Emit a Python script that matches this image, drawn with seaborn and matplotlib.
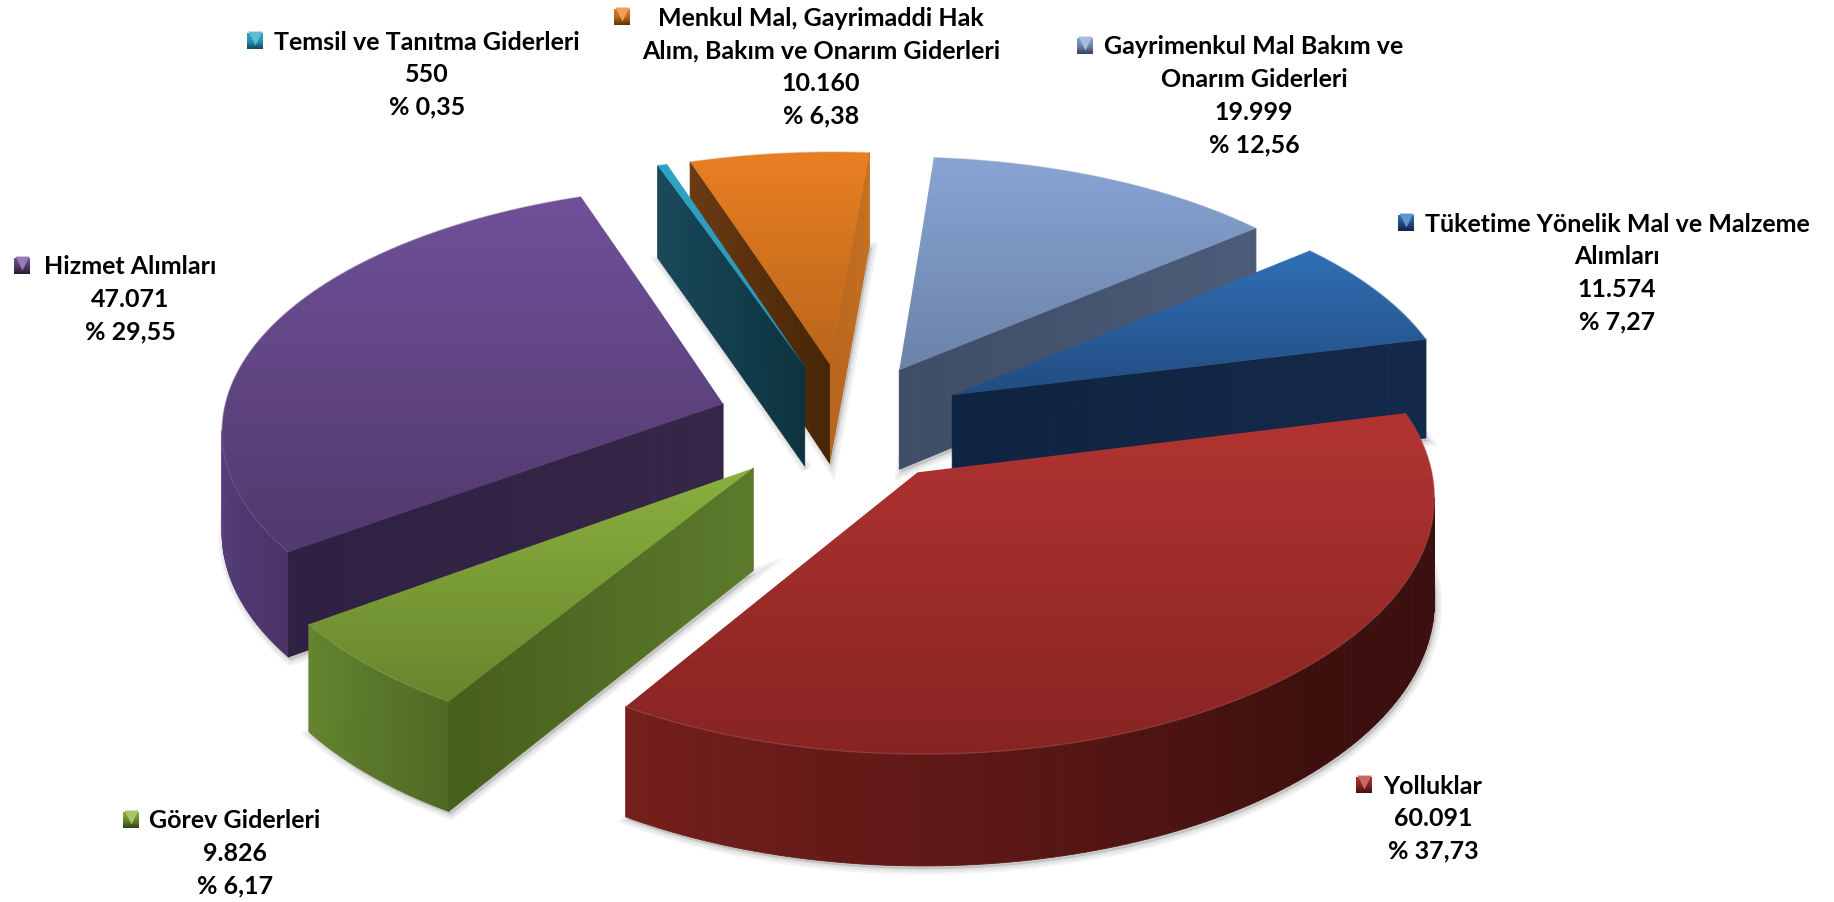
import numpy as np
import matplotlib
matplotlib.use("Agg")
import matplotlib.pyplot as plt
import seaborn as sns
from matplotlib.collections import PolyCollection
from matplotlib.patches import Polygon

# slices, clockwise from the top
labels = ["Temsil ve Tanıtma Giderleri",
          "Menkul Mal, Gayrimaddi Hak\nAlım, Bakım ve Onarım Giderleri",
          "Gayrimenkul Mal Bakım ve\nOnarım Giderleri",
          "Tüketime Yönelik Mal ve Malzeme\nAlımları",
          "Yolluklar",
          "Görev Giderleri",
          "Hizmet Alımları"]
values = [550, 10160, 19999, 11574, 60091, 9826, 47071]
value_text = ["550", "10.160", "19.999", "11.574", "60.091", "9.826", "47.071"]
percent_text = ["% 0,35", "% 6,38", "% 12,56", "% 7,27", "% 37,73", "% 6,17", "% 29,55"]
explode = [0.245, 0.245, 0.245, 0.245, 0.25, 0.255, 0.252]

# colours of the top faces (upper edge, lower edge)
top_colors = [("#2fa3c6", "#2a93b4"), ("#ea7f22", "#b9661b"), ("#88a4d4", "#6c83aa"),
              ("#3070b6", "#224c80"), ("#b23432", "#872422"), ("#8bb03f", "#68862d"),
              ("#70509a", "#513a6c")]
# colours of the side walls: first radial wall, arc, second radial wall
wall_colors = [(None, None, ("#19495a", "#0d3340")),
               (("#b8651d", "#c47020"), None, ("#6a3a12", "#472607")),
               (("#3f4e66", "#4c5c78"), None, None),
               (("#0f2440", "#15294a"), None, None),
               (None, ("#741f1c", "#5c1715", "#3d100e", "#3a0f0e"), None),
               (None, ("#658530", "#4e6a22"), ("#475f1c", "#5c7a2c")),
               (None, ("#5d4281", "#503871", "#4a3468"), ("#2e2143", "#362647"))]

label_x = [427, 821, 1254, 1617, 1433, 235, 130]
label_y = [42, 18, 47, 224, 786, 821, 267]
marker_x = [255, 622, 1085, 1406, 1364, 131, 22]

sns.set_theme(style="white")
plt.rcParams["font.family"] = ["Lato", "DejaVu Sans"]

fig = plt.figure(figsize=(18.34, 9.02), dpi=100)
ax = fig.add_axes([0, 0, 1, 1])

# the pie itself gives the wedge angles and exploded centres
pie_ax = fig.add_axes([0, 0, 0.01, 0.01])
wedges, _ = pie_ax.pie(values, explode=explode, startangle=107.6, counterclock=False)
pie_ax.set_visible(False)


def project(X, Y, drop=0.0):
    sx = 843 + 503 * X / (1 + 0.09 * Y) - 13 * Y
    sy = 422 - 243.6 * Y / (1 + 0.098 * Y) - 0.015 * (sx - 841)
    return sx, sy + drop * 101 / (1 + 0.08 * Y)


def fade(colors, n):
    return sns.blend_palette(list(colors), max(n, 2))


def draw_slice(wedge, tops, walls, z):
    cx, cy = wedge.center
    t = np.radians(np.linspace(wedge.theta1, wedge.theta2, 120))
    arc_X, arc_Y = cx + np.cos(t), cy + np.sin(t)
    first_X = np.linspace(cx, arc_X[0], 25)
    first_Y = np.linspace(cy, arc_Y[0], 25)
    last_X = np.linspace(arc_X[-1], cx, 25)
    last_Y = np.linspace(arc_Y[-1], cy, 25)

    # soft shadow under the slice
    X = np.r_[first_X, arc_X, last_X]
    Y = np.r_[first_Y, arc_Y, last_Y]
    bx, by = project(X, Y, 1)
    for lw in (8, 5, 2):
        ax.fill(bx + 2, by + 3, color="#555555", alpha=0.07, lw=lw, zorder=z)

    # walls facing the viewer, built from short quads
    polys, cols = [], []
    for part, pal in zip([(first_X, first_Y), (arc_X, arc_Y), (last_X, last_Y)], walls):
        if pal is None:
            continue
        x0, y0 = project(part[0], part[1], 0)
        x1, y1 = project(part[0], part[1], 1)
        front = np.where(np.diff(x0) > 0)[0]
        shades = fade(pal, len(front))
        for j, i in enumerate(front):
            polys.append([(x0[i], y0[i]), (x0[i + 1], y0[i + 1]), (x1[i + 1], y1[i + 1]), (x1[i], y1[i])])
            cols.append(shades[j])
    if polys:
        ax.add_collection(PolyCollection(polys, facecolors=cols, edgecolors=cols, linewidths=0.6, zorder=z + 0.1))

    # top face with a vertical gradient
    tx, ty = project(X, Y, 0)
    grad = np.linspace(0, 1, 256).reshape(-1, 1)
    cmap = sns.blend_palette(list(tops), as_cmap=True)
    im = ax.imshow(grad, cmap=cmap, aspect="auto", interpolation="bilinear",
                   extent=(tx.min(), tx.max(), ty.max(), ty.min()), zorder=z + 0.2)
    im.set_clip_path(Polygon(np.c_[tx, ty], closed=True, transform=ax.transData))
    ax.plot(*project(arc_X, arc_Y, 0), color=fade((tops[1], "white"), 5)[1], lw=1, alpha=0.4, zorder=z + 0.3)


# far slices first so the near ones cover them
mids = [np.sin(np.radians((w.theta1 + w.theta2) / 2)) for w in wedges]
for rank, i in enumerate(np.argsort(mids)[::-1]):
    draw_slice(wedges[i], top_colors[i], wall_colors[i], 2 + rank)

# labels
line_h = 32.7
for i, name in enumerate(labels):
    lines = name.split("\n") + [value_text[i], percent_text[i]]
    for k, line in enumerate(lines):
        ax.text(label_x[i], label_y[i] + k * line_h, line, ha="center", va="center",
                fontsize=18, fontweight="bold", color="black", zorder=20)
    # small bevelled legend key
    mx, my = marker_x[i], label_y[i] - 1
    key = sns.blend_palette([top_colors[i][0], top_colors[i][1], fade((top_colors[i][1], "black"), 5)[2]], as_cmap=True)
    ax.imshow(np.linspace(0, 1, 32).reshape(-1, 1), cmap=key, aspect="auto",
              extent=(mx - 8, mx + 8, my + 8, my - 8), zorder=20)
    ax.scatter([mx], [my - 3], marker="v", s=100, linewidths=0, zorder=21,
               color=fade((top_colors[i][0], "white"), 5)[1])

ax.set_xlim(0, 1834)
ax.set_ylim(902, 0)
ax.axis("off")
fig.savefig("out.png", dpi=100, facecolor="white")
